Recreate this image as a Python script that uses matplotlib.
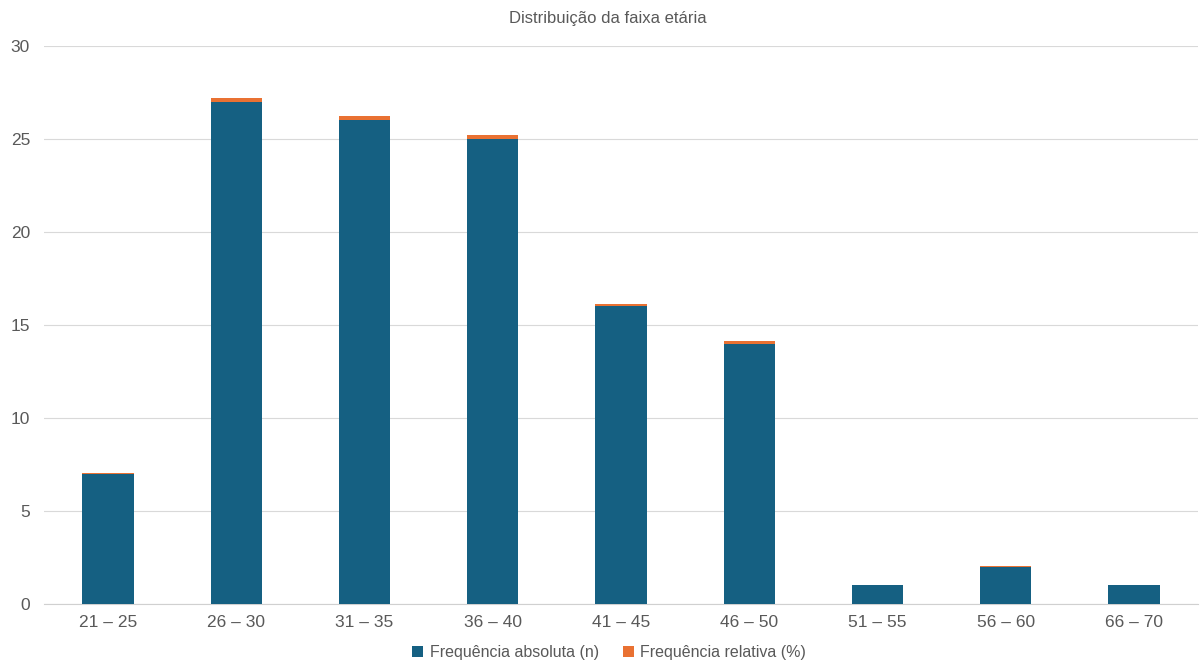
import matplotlib.pyplot as plt

faixas = ["21 – 25", "26 – 30", "31 – 35", "36 – 40", "41 – 45",
          "46 – 50", "51 – 55", "56 – 60", "66 – 70"]
freq_abs = [7, 27, 26, 25, 16, 14, 1, 2, 1]
freq_rel = [0.06, 0.23, 0.22, 0.21, 0.13, 0.12, 0.01, 0.02, 0.01]

plt.rcParams['font.family'] = ['Liberation Sans', 'DejaVu Sans']
cinza = '#595959'

fig = plt.figure(figsize=(12.04, 6.71), dpi=100)
ax = fig.add_axes([0.0365, 0.0998, 0.9585, 0.8316])

x = list(range(len(faixas)))
ax.bar(x, freq_abs, width=0.4, color='#156082', label='Frequência absoluta (n)', zorder=3)
ax.bar(x, freq_rel, width=0.4, bottom=freq_abs, color='#E97132',
       label='Frequência relativa (%)', zorder=3)

ax.set_xlim(-0.5, 8.5)
ax.set_ylim(0, 30)
ax.set_yticks([0, 5, 10, 15, 20, 25, 30])
ax.set_xticks(x)
ax.set_xticklabels(faixas)
ax.grid(axis='y', color='#d9d9d9', linewidth=0.8, zorder=0)
for s in ['top', 'right', 'left']:
    ax.spines[s].set_visible(False)
ax.spines['bottom'].set_color('#d0d0d0')
ax.tick_params(axis='both', length=0, labelsize=12.5, colors=cinza)
ax.tick_params(axis='y', pad=10)
ax.tick_params(axis='x', pad=8)

fig.text(0.505, 0.972, 'Distribuição da faixa etária', ha='center', va='center',
         fontsize=12, color=cinza)
fig.legend(loc='center', bbox_to_anchor=(0.506, 0.028), ncol=2, frameon=False,
           fontsize=11.5, labelcolor=cinza, handlelength=0.7, handleheight=0.7,
           handletextpad=0.4, columnspacing=1.5)

fig.savefig('out.png', dpi=100)
